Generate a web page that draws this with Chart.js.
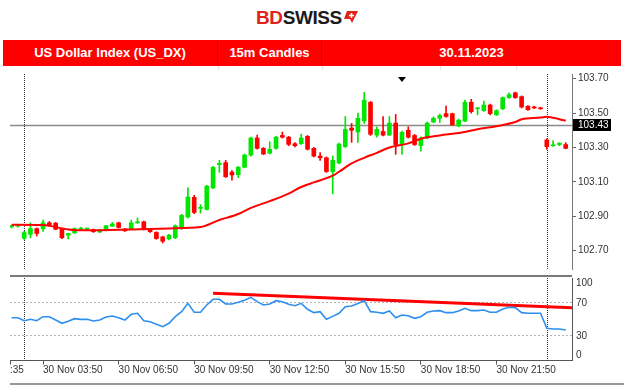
<!DOCTYPE html>
<html>
<head>
<meta charset="utf-8">
<script src="https://cdn.jsdelivr.net/npm/chart.js@4.4.0/dist/chart.umd.min.js"></script>
<style>
  body { margin:0; width:624px; height:387px; overflow:hidden; background:#fff; position:relative;
         font-family: Arial, "Liberation Sans", sans-serif; }
  #logo { position:absolute; top:8px; left:256px; font-weight:bold; font-size:19px; line-height:20px;
          letter-spacing:-0.4px; white-space:nowrap; }
  #logo .bd { color:#e2231a; }
  #logo .sw { color:#1b1b1b; }
  #logo svg { vertical-align:top; margin-left:1px; margin-top:2px; }
  #bar { position:absolute; left:3px; top:40px; width:618px; height:26px; background:#ff0000; display:flex;
         color:#fff; font-weight:bold; font-size:13px; line-height:26px; }
  #bar div { text-align:center; box-sizing:border-box; }
  #bar .c1 { width:215px; border-right:1px solid #d40000; }
  #bar .c2 { width:104px; border-right:1px solid #d40000; }
  #bar .c3 { width:299px; }
  .tick { position:absolute; top:66px; width:1px; height:4px; background:#e2e2e2; }
  #price { position:absolute; left:0; top:66px; }
  #rsi { position:absolute; left:0; top:277px; }
  .sep { position:absolute; }
</style>
</head>
<body>
<div id="logo"><span class="bd">BD</span><span class="sw">SWISS</span><svg width="15" height="14" viewBox="0 0 15 14"><polygon points="4,1 15,1 9,13 7,9 1,9" fill="#e2231a"/><path d="M8.5 3 L8.5 8 M6 5.5 L11 5.5" stroke="#fff" stroke-width="1.6"/></svg></div>
<div id="bar"><div class="c1">US Dollar Index (US_DX)</div><div class="c2">15m Candles</div><div class="c3">30.11.2023</div></div>
<div class="tick" style="left:218px"></div>
<div class="tick" style="left:322px"></div>
<div class="tick" style="left:440px"></div>
<div class="tick" style="left:516px"></div>
<canvas id="price" width="624" height="211"></canvas>
<canvas id="rsi" width="624" height="110"></canvas>
<div class="sep" style="left:10px;top:275px;width:562px;height:2px;background:#7a7a7a"></div>
<div class="sep" style="left:10px;top:383px;width:614px;height:2px;background:#9a9a9a"></div>
<script>
// 15m candles, US_DX, 30.11.2023
const open  = [102.838,102.842,102.772,102.795,102.828,102.827,102.862,102.860,102.828,102.790,
               102.803,102.825,102.826,102.822,102.808,102.818,102.843,102.862,102.826,102.826,
               102.862,102.868,102.822,102.806,102.780,102.768,102.775,102.828,102.895,103.010,
               102.946,102.940,103.065,103.200,103.212,103.157,103.142,103.185,103.256,103.355,
               103.295,103.267,103.295,103.370,103.360,103.322,103.322,103.365,103.295,103.250,
               103.240,103.160,103.210,103.305,103.413,103.390,103.455,103.563,103.372,103.393,
               103.372,103.442,103.317,103.400,103.370,103.311,103.355,103.448,103.470,103.497,
               103.497,103.426,103.453,103.563,103.525,103.514,103.547,103.490,103.525,103.590,
               103.618,103.596,103.540,103.536,103.530,103.344,103.310,103.317,103.317];
const high  = [102.848,102.850,102.812,102.862,102.832,102.878,102.870,102.864,102.830,102.802,
               102.832,102.836,102.830,102.826,102.824,102.848,102.864,102.866,102.830,102.878,
               102.890,102.872,102.826,102.810,102.784,102.795,102.850,102.912,103.065,103.022,
               102.968,103.080,103.190,103.225,103.225,103.165,103.190,103.262,103.360,103.372,
               103.300,103.333,103.365,103.390,103.365,103.328,103.378,103.370,103.300,103.270,
               103.245,103.250,103.325,103.480,103.440,103.500,103.620,103.568,103.420,103.480,
               103.480,103.492,103.395,103.420,103.376,103.362,103.448,103.478,103.495,103.541,
               103.500,103.466,103.575,103.580,103.532,103.570,103.552,103.520,103.594,103.618,
               103.622,103.600,103.544,103.540,103.534,103.350,103.340,103.328,103.328];
const low   = [102.832,102.836,102.765,102.775,102.785,102.812,102.843,102.822,102.770,102.768,
               102.800,102.822,102.822,102.806,102.804,102.815,102.840,102.832,102.812,102.822,
               102.858,102.820,102.806,102.766,102.745,102.762,102.770,102.824,102.890,102.915,
               102.918,102.936,103.060,103.155,103.125,103.110,103.125,103.182,103.250,103.290,
               103.258,103.262,103.290,103.355,103.310,103.304,103.318,103.285,103.245,103.225,
               103.155,103.030,103.205,103.300,103.330,103.330,103.440,103.370,103.360,103.368,
               103.368,103.260,103.260,103.355,103.312,103.278,103.350,103.444,103.445,103.476,
               103.428,103.420,103.450,103.500,103.490,103.510,103.490,103.486,103.520,103.586,
               103.586,103.530,103.515,103.526,103.522,103.290,103.306,103.310,103.292];
const close = [102.846,102.846,102.805,102.828,102.800,102.862,102.851,102.824,102.775,102.800,
               102.828,102.828,102.826,102.810,102.820,102.845,102.855,102.835,102.815,102.862,
               102.868,102.822,102.810,102.770,102.755,102.790,102.845,102.905,103.012,102.922,
               102.952,103.075,103.185,103.208,103.130,103.140,103.185,103.256,103.355,103.295,
               103.262,103.290,103.360,103.360,103.318,103.310,103.355,103.290,103.250,103.240,
               103.160,103.225,103.320,103.405,103.400,103.470,103.575,103.377,103.405,103.372,
               103.442,103.317,103.388,103.360,103.317,103.355,103.442,103.470,103.486,103.480,
               103.432,103.459,103.563,103.508,103.530,103.547,103.497,103.514,103.590,103.607,
               103.590,103.535,103.520,103.530,103.525,103.305,103.314,103.325,103.295];

// moving average, read at a few candles
const maIdx = [0, 5, 9, 12, 19, 25, 30, 33, 36, 38, 41, 44, 46, 48, 51, 52, 54, 56, 58, 60,
               63, 65, 68, 71, 74, 77, 80, 81, 84, 85, 87, 88];
const maVal = [102.851,102.849,102.823,102.818,102.823,102.829,102.837,102.878,102.913,102.949,
               102.988,103.032,103.070,103.097,103.136,103.159,103.207,103.240,103.269,103.300,
               103.324,103.351,103.370,103.384,103.406,103.424,103.448,103.464,103.474,103.479,
               103.464,103.455];

const rsi = [51.9,51.9,48.2,49.9,48.2,53.1,53.1,49.1,45.1,47.5,
             50.7,49.9,49.9,47.9,49.1,52.7,53.9,51.9,49.1,56.0,
             57.2,48.2,47.0,43.9,41.0,45.1,53.1,59.2,69.3,58.4,
             58.4,67.3,74.2,74.2,68.5,68.5,70.5,73.0,76.6,71.3,
             67.3,68.5,72.5,71.3,68.1,66.4,69.3,62.1,58.0,59.2,
             49.9,53.5,57.2,65.2,66.1,69.0,72.5,59.2,58.4,57.2,
             60.0,51.9,55.2,54.3,51.1,53.1,58.4,60.0,60.4,58.0,
             58.0,60.0,63.3,60.4,60.4,61.2,58.4,58.4,62.4,64.5,
             64.1,58.0,57.2,57.2,57.2,39.0,38.2,38.2,37.0];
const trendIdx = [32, 89];
const trendVal = [81.4, 64.0];

const priceTicks = [102.70, 102.90, 103.10, 103.30, 103.50, 103.70];
const rsiTicks = [0, 30, 70, 100];
const timeIdx = [-0.25, 5, 17, 29, 41, 53, 65, 77];
const timeLabels = [':35', '30 Nov 03:50', '30 Nov 06:50', '30 Nov 09:50', '30 Nov 12:50',
                    '30 Nov 15:50', '30 Nov 18:50', '30 Nov 21:50'];
const sessionIdx = [2, 85];
const lastPrice = 103.43;
const markerIdx = 62;

const GREEN = '#00e600';
const RED = '#ff0000';
const X_MIN = -0.25, X_MAX = 89;
const FONT = '10px Arial, "Liberation Sans", sans-serif';

Chart.defaults.font.family = 'Arial, "Liberation Sans", sans-serif';
Chart.defaults.font.size = 10;
Chart.defaults.color = '#333';

const candleColors = open.map((o, i) => close[i] >= o ? GREEN : RED);

function drawSessions(ctx, a, x) {
    ctx.save();
    ctx.strokeStyle = '#333';
    ctx.lineWidth = 1;
    ctx.setLineDash([1, 1]);
    sessionIdx.forEach(i => {
        const px = Math.round(x.getPixelForValue(i)) + 0.5;
        ctx.beginPath();
        ctx.moveTo(px, a.top);
        ctx.lineTo(px, a.bottom);
        ctx.stroke();
    });
    ctx.restore();
}

const priceOverlay = {
    id: 'priceOverlay',
    beforeDatasetsDraw(chart) {
        const {ctx, chartArea: a, scales: {x, y}} = chart;
        const yp = Math.round(y.getPixelForValue(lastPrice)) + 0.5;
        ctx.save();
        ctx.strokeStyle = '#8a8a8a';
        ctx.lineWidth = 1.5;
        ctx.beginPath();
        ctx.moveTo(a.left, yp);
        ctx.lineTo(a.right, yp);
        ctx.stroke();
        ctx.restore();
        drawSessions(ctx, a, x);
    },
    afterDraw(chart) {
        const {ctx, chartArea: a, scales: {x, y}} = chart;
        const yp = Math.round(y.getPixelForValue(lastPrice));
        ctx.save();
        ctx.fillStyle = '#000';
        ctx.fillRect(a.right + 1, yp - 6, 38, 12);
        ctx.fillStyle = '#fff';
        ctx.font = FONT;
        ctx.textBaseline = 'middle';
        ctx.fillText(lastPrice.toFixed(2), a.right + 6, yp + 0.5);
        // small marker at the top
        const mx = x.getPixelForValue(markerIdx);
        ctx.fillStyle = '#000';
        ctx.beginPath();
        ctx.moveTo(mx - 4, a.top + 3);
        ctx.lineTo(mx + 4, a.top + 3);
        ctx.lineTo(mx, a.top + 8);
        ctx.closePath();
        ctx.fill();
        ctx.restore();
    }
};

// rsi labels kept inside the panel, like the terminal does
const rsiOverlay = {
    id: 'rsiOverlay',
    beforeDatasetsDraw(chart) {
        drawSessions(chart.ctx, chart.chartArea, chart.scales.x);
    },
    afterDraw(chart) {
        const {ctx, chartArea: a, scales: {y}} = chart;
        ctx.save();
        ctx.fillStyle = '#333';
        ctx.font = FONT;
        ctx.textBaseline = 'middle';
        rsiTicks.forEach(v => {
            const py = Math.min(Math.max(y.getPixelForValue(v), a.top + 5), a.bottom - 5);
            ctx.fillText(String(v), a.right + 4, py);
        });
        ctx.restore();
    }
};

new Chart(document.getElementById('price'), {
    type: 'bar',
    data: {
        datasets: [
            {
                type: 'line',
                data: maIdx.map((x, i) => ({x: x, y: maVal[i]})),
                borderColor: RED,
                borderWidth: 2,
                pointRadius: 0,
                cubicInterpolationMode: 'monotone'
            },
            {
                data: open.map((o, i) => ({x: i, y: [Math.min(o, close[i]), Math.max(o, close[i])]})),
                backgroundColor: candleColors,
                barThickness: 4,
                minBarLength: 1,
                grouped: false
            },
            {
                data: open.map((o, i) => ({x: i, y: [low[i], high[i]]})),
                backgroundColor: candleColors,
                barThickness: 1,
                grouped: false
            }
        ]
    },
    options: {
        responsive: false,
        animation: false,
        layout: {padding: {left: 10, top: 2, bottom: 2, right: 0}},
        plugins: {legend: {display: false}, tooltip: {enabled: false}},
        scales: {
            x: {type: 'linear', min: X_MIN, max: X_MAX, offset: false, display: false},
            y: {
                position: 'right',
                min: 102.5933,
                max: 103.7274,
                beginAtZero: false,
                afterBuildTicks: s => { s.ticks = priceTicks.map(v => ({value: v})); },
                afterFit: s => { s.width = 52; },
                ticks: {callback: v => v.toFixed(2), padding: 2, autoSkip: false},
                grid: {drawOnChartArea: false, tickLength: 4, color: '#666'},
                border: {color: '#777'}
            }
        }
    },
    plugins: [priceOverlay]
});

new Chart(document.getElementById('rsi'), {
    type: 'line',
    data: {
        datasets: [
            {
                data: rsi.map((v, i) => ({x: i, y: v})),
                borderColor: '#2e8ff0',
                borderWidth: 1.6,
                pointRadius: 0
            },
            {
                data: trendIdx.map((x, i) => ({x: x, y: trendVal[i]})),
                borderColor: RED,
                borderWidth: 3,
                pointRadius: 0
            }
        ]
    },
    options: {
        responsive: false,
        animation: false,
        layout: {padding: {left: 10, top: 1, bottom: 10.5, right: 0}},
        plugins: {legend: {display: false}, tooltip: {enabled: false}},
        scales: {
            x: {
                type: 'linear', min: X_MIN, max: X_MAX, offset: false,
                afterBuildTicks: s => { s.ticks = timeIdx.map(v => ({value: v})); },
                ticks: {autoSkip: false, maxRotation: 0, minRotation: 0, align: 'start', padding: 0,
                        callback: (v, i) => timeLabels[i]},
                grid: {drawOnChartArea: false, tickLength: 4, color: '#555'},
                border: {color: '#555'}
            },
            y: {
                position: 'right', min: 0, max: 100,
                afterBuildTicks: s => { s.ticks = rsiTicks.map(v => ({value: v})); },
                afterFit: s => { s.width = 52; },
                ticks: {display: false},
                grid: {
                    color: c => (c.tick && (c.tick.value === 30 || c.tick.value === 70)) ? '#b5b5b5' : 'rgba(0,0,0,0)',
                    drawTicks: false
                },
                border: {color: '#555', dash: [2, 2]}
            }
        }
    },
    plugins: [rsiOverlay]
});
</script>
</body>
</html>
